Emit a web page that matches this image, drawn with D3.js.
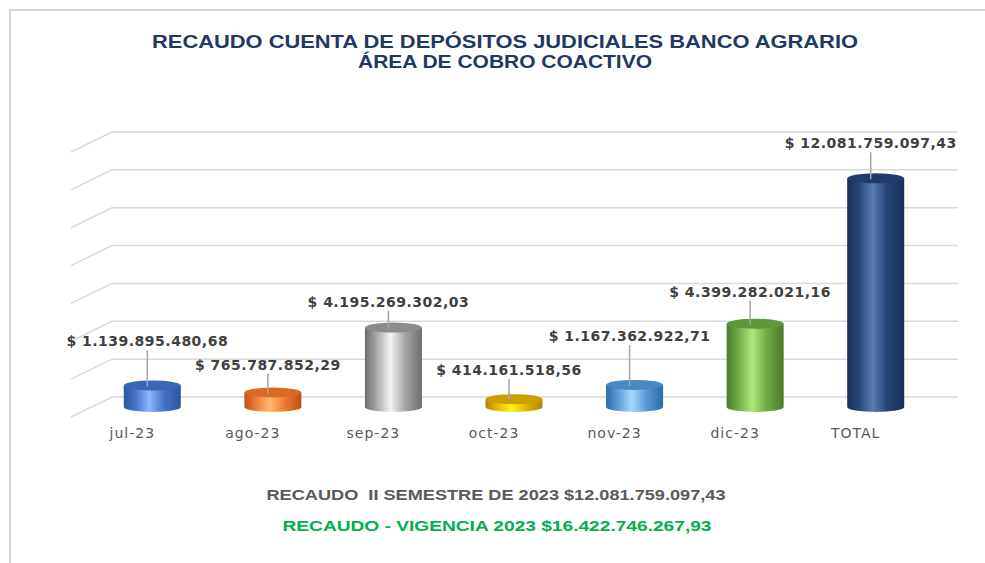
<!DOCTYPE html>
<html>
<head>
<meta charset="utf-8">
<script src="https://cdn.jsdelivr.net/npm/d3@7"></script>
<style>
  body { margin: 0; background: #fff; }
  svg { display: block; }
</style>
</head>
<body>
<svg id="chart" width="985" height="563"></svg>
<script>
const categories = ['jul-23', 'ago-23', 'sep-23', 'oct-23', 'nov-23', 'dic-23', 'TOTAL']
const values = [1139895480.68, 765787852.29, 4195269302.03, 414161518.56, 1167362922.71, 4399282021.16, 12081759097.43]
const valueLabels = ['$ 1.139.895.480,68', '$ 765.787.852,29', '$ 4.195.269.302,03', '$ 414.161.518,56',
    '$ 1.167.362.922,71', '$ 4.399.282.021,16', '$ 12.081.759.097,43']
const titleLines = ['RECAUDO CUENTA DE DEPÓSITOS JUDICIALES BANCO AGRARIO', 'ÁREA DE COBRO COACTIVO']
const footerLines = ['RECAUDO  II SEMESTRE DE 2023 $12.081.759.097,43', 'RECAUDO - VIGENCIA 2023 $16.422.746.267,93']

// bar colours: [edge, mid, highlight, top]
const barColors = [
    ['#2c54a0', '#4472c4', '#8db6ff', '#3a66b8'],
    ['#b8520f', '#ed7d31', '#ffb870', '#d96a22'],
    ['#6e6e6e', '#a6a6a6', '#f4f4f4', '#8c8c8c'],
    ['#b08600', '#e6b800', '#fff31a', '#caa000'],
    ['#2a6aa8', '#5b9bd5', '#a3d8ff', '#4a88c4'],
    ['#4a7a2c', '#70ad47', '#aae87c', '#5e9838'],
    ['#1a2d55', '#264478', '#5c7cb5', '#213b6a']
]
// how far above the bar top each value label sits (px)
const labelLift = [44, 28, 26, 29, 49, 32, 35]

const svg = d3.select('#chart')
const depth = { dx: 41, dy: 20 }
const back = { left: 112, right: 958, bottom: 397, top: 132 }

const x = d3.scalePoint().domain(categories).range([92, 936]).padding(0.5)
const y = d3.scaleLinear().domain([0, 14e9]).range([back.bottom, back.top])
const barW = 57
const ry = 5
const yBar = v => y(v) + depth.dy / 2

// frame
svg.append('path')
    .attr('d', 'M10,565 L10,10 L990,10')
    .attr('fill', 'none')
    .attr('stroke', '#d6d6d6')
    .attr('stroke-width', 2)

// title
svg.selectAll('text.title')
    .data(titleLines)
    .join('text')
    .attr('class', 'title')
    .attr('x', 505)
    .attr('y', (d, i) => 48 + i * 20)
    .attr('text-anchor', 'middle')
    .attr('font-family', 'Liberation Sans, Arial, sans-serif')
    .attr('font-weight', 'bold')
    .attr('font-size', 18)
    .attr('fill', '#1f3864')
    .attr('textLength', (d, i) => i === 0 ? 706 : 294)
    .attr('lengthAdjust', 'spacingAndGlyphs')
    .text(d => d)

// gridlines on back wall + side wall
const grid = svg.append('g')
y.ticks(7).forEach(t => {
    grid.append('path')
        .attr('d', `M${back.left - depth.dx},${y(t) + depth.dy} L${back.left},${y(t)} L${back.right},${y(t)}`)
        .attr('fill', 'none')
        .attr('stroke', '#d9d9d9')
        .attr('stroke-width', 1.5)
})

// gradients
const defs = svg.append('defs')
barColors.forEach((c, i) => {
    const g = defs.append('linearGradient')
        .attr('id', 'grad' + i)
        .attr('x1', '0%').attr('x2', '100%')
    g.append('stop').attr('offset', '0%').attr('stop-color', c[0])
    g.append('stop').attr('offset', '20%').attr('stop-color', c[1])
    g.append('stop').attr('offset', '45%').attr('stop-color', c[2])
    g.append('stop').attr('offset', '70%').attr('stop-color', c[1])
    g.append('stop').attr('offset', '100%').attr('stop-color', c[0])
})

// cylinders
const bars = svg.append('g')
    .selectAll('g')
    .data(values)
    .join('g')

bars.append('path')
    .attr('fill', (d, i) => `url(#grad${i})`)
    .attr('d', (d, i) => {
        const cx = x(categories[i])
        const x0 = cx - barW / 2
        const x1 = cx + barW / 2
        const yt = yBar(d)
        const yb = yBar(0)
        return `M${x0},${yt} L${x0},${yb} A${barW / 2},${ry} 0 0 0 ${x1},${yb} L${x1},${yt} Z`
    })

bars.append('ellipse')
    .attr('cx', (d, i) => x(categories[i]))
    .attr('cy', d => yBar(d))
    .attr('rx', barW / 2)
    .attr('ry', ry)
    .attr('fill', (d, i) => barColors[i][3])

// leader lines + value labels
bars.append('line')
    .attr('x1', (d, i) => x(categories[i]) - 5)
    .attr('x2', (d, i) => x(categories[i]) - 5)
    .attr('y1', (d, i) => yBar(d) - labelLift[i] + 9)
    .attr('y2', d => yBar(d) + 1)
    .attr('stroke', '#a6a6a6')
    .attr('stroke-width', 1.5)

bars.append('text')
    .attr('x', (d, i) => x(categories[i]) - 5)
    .attr('y', (d, i) => yBar(d) - labelLift[i] + 5)
    .attr('text-anchor', 'middle')
    .attr('font-family', 'DejaVu Sans, Verdana, sans-serif')
    .attr('font-weight', 'bold')
    .attr('font-size', 14)
    .attr('letter-spacing', 0.5)
    .attr('fill', '#404040')
    .text((d, i) => valueLabels[i])

// category labels
svg.append('g')
    .selectAll('text')
    .data(categories)
    .join('text')
    .attr('x', d => x(d) - 20)
    .attr('y', 438)
    .attr('text-anchor', 'middle')
    .attr('font-family', 'DejaVu Sans, Verdana, sans-serif')
    .attr('font-size', 14)
    .attr('letter-spacing', 1)
    .attr('fill', '#595959')
    .text(d => d)

// footer
svg.selectAll('text.footer')
    .data(footerLines)
    .join('text')
    .attr('class', 'footer')
    .attr('x', (d, i) => i === 0 ? 496 : 497)
    .attr('y', (d, i) => 500 + i * 31)
    .attr('text-anchor', 'middle')
    .attr('font-family', 'Liberation Sans, Arial, sans-serif')
    .attr('font-weight', 'bold')
    .attr('font-size', 15)
    .attr('fill', (d, i) => i === 0 ? '#595959' : '#00b050')
    .attr('textLength', (d, i) => i === 0 ? 459 : 429)
    .attr('lengthAdjust', 'spacingAndGlyphs')
    .style('white-space', 'pre')
    .text(d => d)
</script>
</body>
</html>
